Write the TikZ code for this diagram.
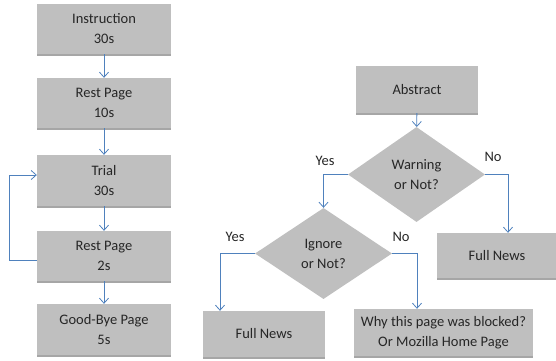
\documentclass[tikz,border=0pt]{standalone}
\usepackage{fontspec}
\setmainfont{Carlito}
\usetikzlibrary{shapes.geometric,arrows.meta,shadows}
\definecolor{boxgray}{HTML}{BFBFBF}
\definecolor{arrblue}{HTML}{4F81BD}
\definecolor{txt}{HTML}{262626}
\begin{document}
\begin{tikzpicture}[x=1pt,y=-1pt,
  font=\fontsize{14.5}{20}\selectfont, text=txt,
  every node/.style={inner sep=0pt},
  boxshadow/.style={drop shadow={shadow xshift=0.4pt,shadow yshift=-1.6pt,opacity=0.35,fill=black}},
  procbox/.style={rectangle, fill=boxgray, boxshadow, align=center},
  decision/.style={diamond, fill=boxgray, align=center, inner sep=0pt},
  arr/.style={draw=arrblue, line width=0.8pt, -{Straight Barb[length=5pt,width=9pt,line width=0.8pt]}},
  lbl/.style={text=txt}
]
\useasboundingbox (0,0) rectangle (556,360);
% left column
\node[procbox, minimum width=134pt, minimum height=50pt] (instr) at (104,29) {Instruction\\30s};
\node[procbox, minimum width=134pt, minimum height=50pt] (rest1) at (104,103) {Rest Page\\10s};
\node[procbox, minimum width=134pt, minimum height=51pt] (trial) at (104,180.5) {Trial\\30s};
\node[procbox, minimum width=134pt, minimum height=50pt] (rest2) at (104,256) {Rest Page\\2s};
\node[procbox, minimum width=134pt, minimum height=51pt] (bye) at (104,329.5) {Good-Bye Page\\5s};
\draw[arr] (instr) -- (rest1);
\draw[arr] (rest1) -- (trial);
\draw[arr] (trial) -- (rest2);
\draw[arr] (rest2) -- (bye);
\coordinate (loopa) at (9,260);
\draw[arr] ([yshift=-4pt]rest2.west) -- (loopa) |- ([yshift=5.5pt]trial.west);
% right part
\node[procbox, minimum width=122pt, minimum height=47pt] (abs) at (417,89.5) {Abstract};
\node[decision, minimum width=137pt, minimum height=95pt] (warn) at (416.5,174.5) {Warning\\or Not?};
\node[decision, minimum width=137pt, minimum height=91pt] (ign) at (323.5,253.5) {Ignore\\or Not?};
\node[procbox, minimum width=122pt, minimum height=46pt] (full1) at (264,334) {Full News};
\node[procbox, minimum width=179pt, minimum height=47pt] (why) at (443.5,332.5) {Why this page was blocked?\\Or Mozilla Home Page};
\node[procbox, minimum width=120pt, minimum height=45pt] (full2) at (497,255.5) {Full News};
\draw[arr] (abs) -- (warn);
\draw[arr] (warn.west) -| (ign.north);
\draw[arr] (warn.east) -| ([xshift=11pt]full2.north);
\draw[arr] (ign.west) -| ([xshift=-44pt]full1.north);
\draw[arr] (ign.east) -| ([xshift=-26.5pt]why.north);
\node[lbl] (y1) at (325,161) {Yes};
\node[lbl] (n1) at (493,157) {No};
\node[lbl] (y2) at (235,237) {Yes};
\node[lbl] (n2) at (401,237) {No};
\end{tikzpicture}
\end{document}
